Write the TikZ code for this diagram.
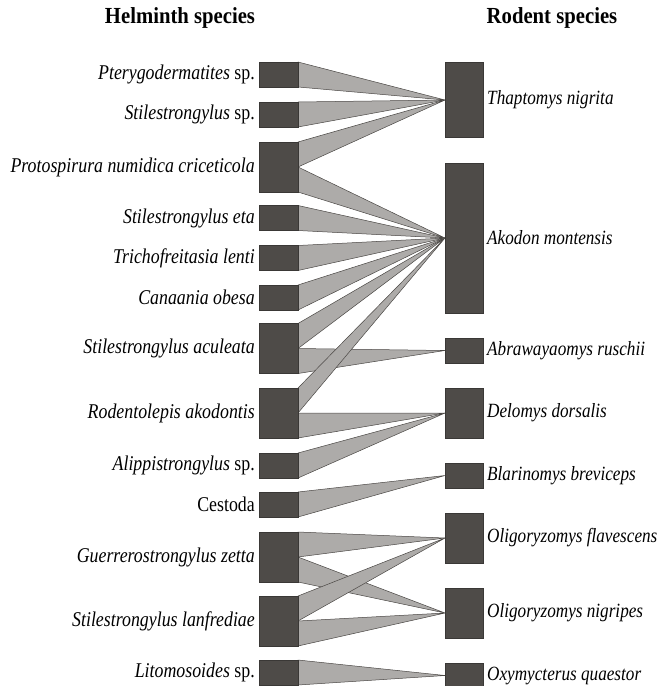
\documentclass[tikz,border=0pt]{standalone}
\usepackage{fontspec}
\setmainfont{Liberation Serif}[FakeStretch=0.85]
\newfontfamily\headfont{Liberation Serif}[FakeStretch=0.9]
\definecolor{boxc}{HTML}{4E4B48}
\definecolor{boxd}{HTML}{3A3836}
\definecolor{linkc}{HTML}{ADABA9}
\definecolor{linkd}{HTML}{4A4744}
\begin{document}
\begin{tikzpicture}[x=1pt,y=-1pt,
  lbox/.style={rectangle,fill=boxc,draw=boxd,line width=0.6pt,minimum width=39pt,inner sep=0pt,outer sep=0pt},
  rbox/.style={rectangle,fill=boxc,draw=boxd,line width=0.6pt,minimum width=38pt,inner sep=0pt,outer sep=0pt},
  small/.style={minimum height=25pt},
  big/.style={minimum height=50pt},
  huge/.style={minimum height=75pt},
  giant/.style={minimum height=150pt},
  link/.style={fill=linkc,draw=linkd,line width=0.5pt,line join=miter},
  llab/.style={anchor=east,inner sep=0pt,font=\fontsize{21}{24}\selectfont\itshape},
  rlab/.style={anchor=west,inner sep=0pt,font=\fontsize{20.2}{24}\selectfont\itshape},
  head/.style={inner sep=0pt,font=\fontsize{23}{27}\selectfont\headfont\bfseries}]
\useasboundingbox (0,0) rectangle (660,686);
% headers
\node[head] (hh) at (180,18) {Helminth species};
\node[head] (hr) at (552,18) {Rodent species};
% left boxes
\node[lbox,small] (L1) at (278.5,74.5) {};
\node[lbox,small] (L2) at (278.5,114.5) {};
\node[lbox,big]   (L3) at (278.5,167) {};
\node[lbox,small] (L4) at (278.5,218) {};
\node[lbox,small] (L5) at (278.5,258) {};
\node[lbox,small] (L6) at (278.5,297.5) {};
\node[lbox,big]   (L7) at (278.5,348.5) {};
\node[lbox,big]   (L8) at (278.5,413) {};
\node[lbox,small] (L9) at (278.5,465.5) {};
\node[lbox,small] (L10) at (278.5,504.5) {};
\node[lbox,big]   (L11) at (278.5,557) {};
\node[lbox,big]   (L12) at (278.5,621) {};
\node[lbox,small] (L13) at (278.5,672.5) {};
% right boxes
\node[rbox,huge]  (R1) at (464,100) {};
\node[rbox,giant] (R2) at (464,238) {};
\node[rbox,small] (R3) at (464,350.5) {};
\node[rbox,big]   (R4) at (464,413) {};
\node[rbox,small] (R5) at (464,475.5) {};
\node[rbox,big]   (R6) at (464,538) {};
\node[rbox,big]   (R7) at (464,613) {};
\node[rbox,small] (R8) at (464,675.5) {};
% links
\draw[link] (L1.north east) -- (R1.west) -- (L1.south east) -- cycle;
\draw[link] (L2.north east) -- (R1.west) -- (L2.south east) -- cycle;
\draw[link] (L3.north east) -- (R1.west) -- (L3.east) -- cycle;
\draw[link] (L3.east) -- (R2.west) -- (L3.south east) -- cycle;
\draw[link] (L4.north east) -- (R2.west) -- (L4.south east) -- cycle;
\draw[link] (L5.north east) -- (R2.west) -- (L5.south east) -- cycle;
\draw[link] (L6.north east) -- (R2.west) -- (L6.south east) -- cycle;
\draw[link] (L7.north east) -- (R2.west) -- (L7.east) -- cycle;
\draw[link] (L7.east) -- (R3.west) -- (L7.south east) -- cycle;
\draw[link] (L8.north east) -- (R2.west) -- (L8.east) -- cycle;
\draw[link] (L8.east) -- (R4.west) -- (L8.south east) -- cycle;
\draw[link] (L9.north east) -- (R4.west) -- (L9.south east) -- cycle;
\draw[link] (L10.north east) -- (R5.west) -- (L10.south east) -- cycle;
\draw[link] (L11.north east) -- (R6.west) -- (L11.east) -- cycle;
\draw[link] (L11.east) -- (R7.west) -- (L11.south east) -- cycle;
\draw[link] (L12.north east) -- (R6.west) -- (L12.east) -- cycle;
\draw[link] (L12.east) -- (R7.west) -- (L12.south east) -- cycle;
\draw[link] (L13.north east) -- (R8.west) -- (L13.south east) -- cycle;
% redraw boxes on top
\foreach \n in {L1,L2,L3,L4,L5,L6,L7,L8,L9,L10,L11,L12,L13,R1,R2,R3,R4,R5,R6,R7,R8}
  \fill[boxc,draw=boxd,line width=0.6pt] (\n.north west) rectangle (\n.south east);
% left labels
\node[llab] (t1) at (255,74.5) {Pterygodermatites\upshape{} sp.};
\node[llab] (t2) at (255,114.5) {Stilestrongylus\upshape{} sp.};
\node[llab] (t3) at (255,167) {Protospirura numidica criceticola};
\node[llab] (t4) at (255,218) {Stilestrongylus eta};
\node[llab] (t5) at (255,258) {Trichofreitasia lenti};
\node[llab] (t6) at (255,297.5) {Canaania obesa};
\node[llab] (t7) at (255,348.5) {Stilestrongylus aculeata};
\node[llab] (t8) at (255,413) {Rodentolepis akodontis};
\node[llab] (t9) at (255,465.5) {Alippistrongylus\upshape{} sp.};
\node[llab] (t10) at (255,504.5) {\upshape Cestoda};
\node[llab] (t11) at (255,557) {Guerrerostrongylus zetta};
\node[llab] (t12) at (255,621) {Stilestrongylus lanfrediae};
\node[llab] (t13) at (255,672.5) {Litomosoides\upshape{} sp.};
% right labels
\node[rlab] (s1) at (487,100) {Thaptomys nigrita};
\node[rlab] (s2) at (487,238) {Akodon montensis};
\node[rlab] (s3) at (487,350.5) {Abrawayaomys ruschii};
\node[rlab] (s4) at (487,413) {Delomys dorsalis};
\node[rlab] (s5) at (487,475.5) {Blarinomys breviceps};
\node[rlab] (s6) at (487,538) {Oligoryzomys flavescens};
\node[rlab] (s7) at (487,613) {Oligoryzomys nigripes};
\node[rlab] (s8) at (487,675.5) {Oxymycterus quaestor};
\end{tikzpicture}
\end{document}
